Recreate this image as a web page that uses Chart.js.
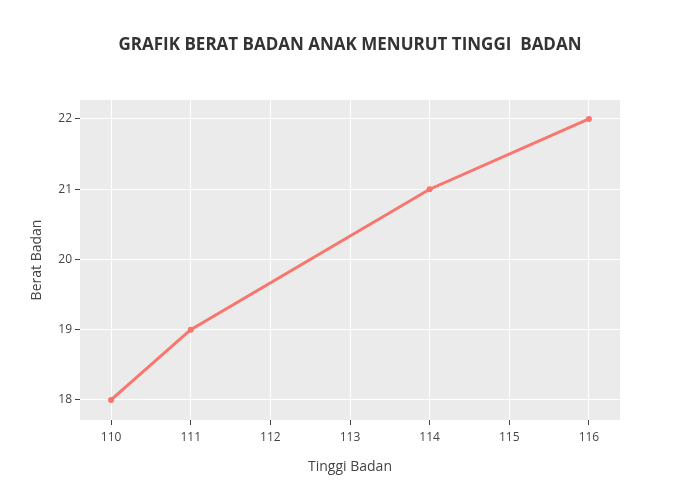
<!DOCTYPE html>
<html>
<head>
<meta charset="utf-8">
<script src="https://cdn.jsdelivr.net/npm/chart.js@4/dist/chart.umd.min.js"></script>
<style>
  html, body { margin: 0; padding: 0; background: #ffffff; }
  #wrap { width: 700px; height: 500px; }
</style>
</head>
<body>
<div id="wrap"><canvas id="c" width="700" height="500"></canvas></div>
<script>
// ---- data ----
const tinggiBadan = [110, 111, 114, 116];
const beratBadan = [18, 19, 21, 22];
const xTicks = [110, 111, 112, 113, 114, 115, 116];
const yTicks = [18, 19, 20, 21, 22];
const chartTitle = 'GRAFIK BERAT BADAN ANAK MENURUT TINGGI  BADAN';
const xTitle = 'Tinggi Badan';
const yTitle = 'Berat Badan';

const points = tinggiBadan.map((x, i) => ({ x: x, y: beratBadan[i] }));

const bgPlugin = {
  id: 'plotBg',
  beforeDraw(chart) {
    const { ctx, chartArea: a } = chart;
    ctx.save();
    ctx.fillStyle = '#EBEBEB';
    ctx.fillRect(a.left, a.top, a.right - a.left, a.bottom - a.top);
    ctx.restore();
  }
};

Chart.defaults.font.family = '"Open Sans", sans-serif';

new Chart(document.getElementById('c'), {
  type: 'line',
  data: {
    datasets: [{
      data: points,
      yAxisID: 'y',
      borderColor: '#F8766D',
      backgroundColor: '#F8766D',
      borderWidth: 3,
      pointRadius: 3,
      pointBorderWidth: 0,
      pointBackgroundColor: '#F8766D',
      tension: 0,
      fill: false
    }]
  },
  options: {
    responsive: false,
    animation: false,
    layout: { padding: { left: 40, right: 40, top: 0, bottom: 0 } },
    plugins: {
      legend: { display: false },
      tooltip: { enabled: false },
      title: {
        display: true,
        text: chartTitle,
        color: '#333333',
        font: { size: 17, weight: 'bold', family: '"Open Sans", sans-serif', lineHeight: 1.2 },
        padding: { top: 34.5, bottom: 45.1 }
      }
    },
    scales: {
      x: {
        type: 'linear',
        min: 109.61,
        max: 116.39,
        afterFit(scale) { scale.height = 80; },
        afterBuildTicks(scale) { scale.ticks = xTicks.map(v => ({ value: v })); },
        ticks: {
          includeBounds: false,
          stepSize: 1,
          color: '#444444',
          font: { size: 12 },
          padding: 5,
          maxRotation: 0
        },
        grid: {
          color: '#FFFFFF',
          lineWidth: 1,
          tickColor: '#444444',
          tickLength: 5,
          drawTicks: true
        },
        border: { display: false },
        title: {
          display: true,
          text: xTitle,
          color: '#444444',
          font: { size: 14, lineHeight: 1.2 },
          padding: { top: 0, bottom: 24.6 }
        }
      },
      y: {
        type: 'linear',
        position: 'left',
        min: 17.715,
        max: 22.27,
        afterFit(scale) { scale.width = 40; },
        afterBuildTicks(scale) { scale.ticks = yTicks.map(v => ({ value: v })); },
        ticks: {
          includeBounds: false,
          stepSize: 1,
          color: '#444444',
          font: { size: 12 },
          padding: 3
        },
        grid: {
          color: '#FFFFFF',
          lineWidth: 1,
          tickColor: '#444444',
          tickLength: 5,
          drawTicks: true
        },
        border: { display: false },
        title: {
          display: true,
          text: yTitle,
          color: '#444444',
          font: { size: 14, lineHeight: 1.2 },
          padding: { top: -11.4, bottom: 0 }
        }
      },
      ySpacer: {
        type: 'linear',
        position: 'right',
        min: 17.715,
        max: 22.27,
        afterFit(scale) { scale.width = 40; },
        ticks: { display: false },
        grid: { display: false, drawTicks: false },
        border: { display: false },
        title: { display: false }
      }
    }
  },
  plugins: [bgPlugin]
});
</script>
</body>
</html>
